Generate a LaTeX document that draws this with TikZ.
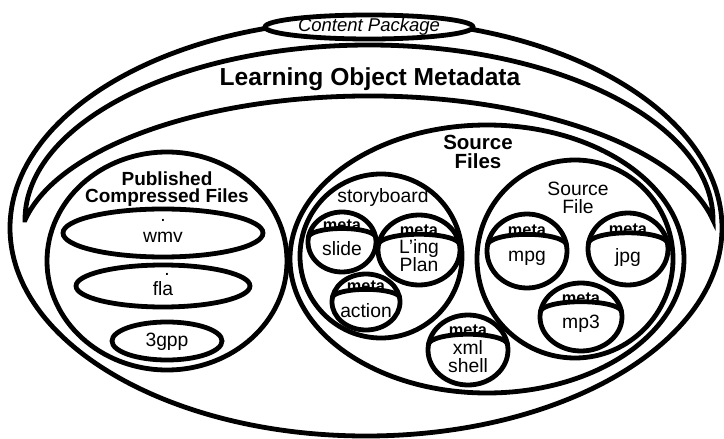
\documentclass[tikz,border=0pt]{standalone}
\usepackage{fontspec}
\setmainfont{Liberation Sans}
% metadata disk: circle with a cap arc, "meta" above the cap and a label below
% #1 name, #2 cx, #3 cy, #4 rx, #5 ry, #6 label y, #7 label
\newcommand\metadisk[7]{%
  \draw[shell] (#2,#3) ellipse [x radius=#4, y radius=#5];
  \draw (#2-0.99*#4,#3-0.15*#5) arc[start angle=180, end angle=360,
        x radius=0.99*#4, y radius=0.3*#5];
  \node[metatxt] (#1-meta) at (#2,#3-0.56*#5) {meta};
  \node[txt] (#1) at (#2,#6) {#7};
}
\begin{document}
\begin{tikzpicture}[x=1pt,y=-1pt,line width=4.8pt,
  shell/.style={draw,fill=white,line width=4.8pt},
  txt/.style={font=\fontsize{19.3}{18}\selectfont,align=center,inner sep=0pt},
  boldtxt/.style={font=\fontsize{19}{17.5}\selectfont\bfseries,align=center,inner sep=0pt},
  metatxt/.style={font=\fontsize{16.3}{16}\selectfont\bfseries,inner sep=0pt}]
\useasboundingbox (0,0) rectangle (724,439);

% content package
\draw[shell] (366,228) ellipse [x radius=356, y radius=208];
% learning object metadata band
\draw[shell,line join=miter] (25,220)
  arc[start angle=180, end angle=360, x radius=344, y radius=175]
  arc[start angle=348.77, end angle=191.23, x radius=350.7, y radius=154] -- cycle;
\draw[shell] (369,27) ellipse [x radius=104, y radius=12];
\node[font=\fontsize{18.5}{18}\selectfont\itshape,inner sep=0pt] (cp) at (369,27) {Content Package};
\node[font=\fontsize{24.6}{24}\selectfont\bfseries,inner sep=0pt] (lom) at (370,79) {Learning Object Metadata};

% published compressed files
\draw[shell] (167,261) ellipse [x radius=120, y radius=109];
\node[boldtxt] (pub) at (167,189) {Published\\Compressed Files};
\draw[shell] (163,233) ellipse [x radius=100, y radius=24];
\node[txt] (wmvdot) at (163,220) {.};
\node[txt] (wmv) at (163,237) {wmv};
\draw[shell] (163,286) ellipse [x radius=87, y radius=21];
\node[txt] (fladot) at (167,274) {.};
\node[txt] (fla) at (163,289) {fla};
\draw[shell] (167,341) ellipse [x radius=55, y radius=19];
\node[txt] (gpp) at (167,342) {3gpp};

% source files
\draw[shell] (487,259) ellipse [x radius=197, y radius=134];
\node[font=\fontsize{20.5}{19}\selectfont\bfseries,align=center,inner sep=0pt] (src) at (478,152) {Source\\Files};
\draw[shell] (381,256) ellipse [x radius=81, y radius=82];
\node[txt] (sb) at (383,198) {storyboard};
\draw[shell] (575,259) ellipse [x radius=98, y radius=99];
\node[txt] (sf) at (578,198) {Source\\File};

\metadisk{slide}{342}{242}{34}{30}{249}{slide}
\metadisk{ling}{419}{250}{41}{35}{256}{L’ing\\Plan}
\metadisk{action}{366}{302}{34}{28}{311}{action}
\metadisk{xml}{468}{350}{40}{35}{357}{xml\\shell}
\metadisk{mpg}{527}{251}{40}{37}{258}{mpg}
\metadisk{jpg}{628}{249}{40}{36}{258}{jpg}
\metadisk{mp3}{581}{317}{41}{34}{324}{mp3}
\end{tikzpicture}
\end{document}
